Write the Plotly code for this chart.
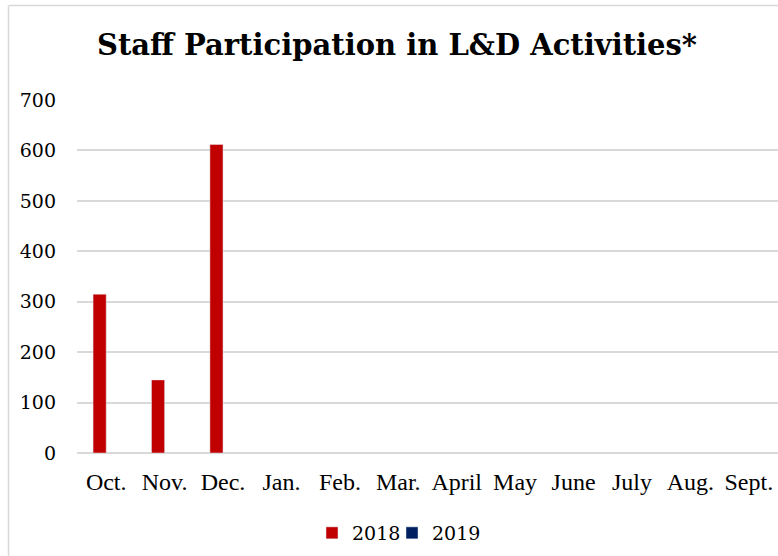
import plotly.graph_objects as go

months = ["Oct.", "Nov.", "Dec.", "Jan.", "Feb.", "Mar.", "April", "May", "June", "July", "Aug.", "Sept."]
vals_2018 = [315, 145, 612, None, None, None, None, None, None, None, None, None]
vals_2019 = [None] * 12
y_ticks = [0, 100, 200, 300, 400, 500, 600, 700]

W, H = 778, 556
L, R, T, B = 77, 0, 100, 103
pw, ph = W - L - R, H - T - B

def px_x(p):
    return (p - L) / pw

def px_y(p):
    return (H - B - p) / ph

fig = go.Figure()
fig.add_trace(go.Bar(x=months, y=vals_2018, name="2018", marker_color="#C00000", legend="legend"))
fig.add_trace(go.Bar(x=months, y=vals_2019, name="2019", marker_color="#002060", legend="legend2"))

legend_common = dict(orientation="h", xanchor="left", y=px_y(533), yanchor="middle",
                     font=dict(family="DejaVu Serif", size=19, color="black"),
                     itemwidth=30, bgcolor="rgba(0,0,0,0)")

fig.update_layout(
    width=W, height=H,
    margin=dict(l=L, r=R, t=T, b=B),
    paper_bgcolor="white", plot_bgcolor="white",
    barmode="group", bargap=0.55, bargroupgap=0,
    title=dict(text="<b>Staff Participation in L&D Activities*</b>",
               x=px_x(397), xref="paper", xanchor="center",
               y=1 - 45 / H, yref="container", yanchor="middle",
               font=dict(family="DejaVu Serif", size=29, color="black")),
    showlegend=True,
    legend=dict(x=px_x(312), **legend_common),
    legend2=dict(x=px_x(392), **legend_common),
    xaxis=dict(type="category", showgrid=False, showline=False, ticks="",
               tickfont=dict(family="Liberation Serif", size=24, color="black"),
               ticklabelstandoff=12),
    yaxis=dict(range=[0, 700], tickvals=y_ticks, showgrid=True, gridcolor="#d9d9d9", gridwidth=1.5,
               zeroline=True, zerolinecolor="#d9d9d9", zerolinewidth=1.5, showline=False, ticks="",
               tickfont=dict(family="DejaVu Serif", size=19, color="black"),
               ticklabelstandoff=20),
    shapes=[
        dict(type="line", xref="paper", yref="paper", x0=px_x(8.5), x1=px_x(8.5), y0=px_y(5.5), y1=px_y(600),
             line=dict(color="#d9d9d9", width=1.5)),
        dict(type="line", xref="paper", yref="paper", x0=px_x(8.5), x1=px_x(800), y0=px_y(5.5), y1=px_y(5.5),
             line=dict(color="#d9d9d9", width=1.5)),
    ],
)

fig.write_html("out.html", config={"displayModeBar": False},
               post_script="document.body.style.margin='0';document.body.style.overflow='hidden';")
